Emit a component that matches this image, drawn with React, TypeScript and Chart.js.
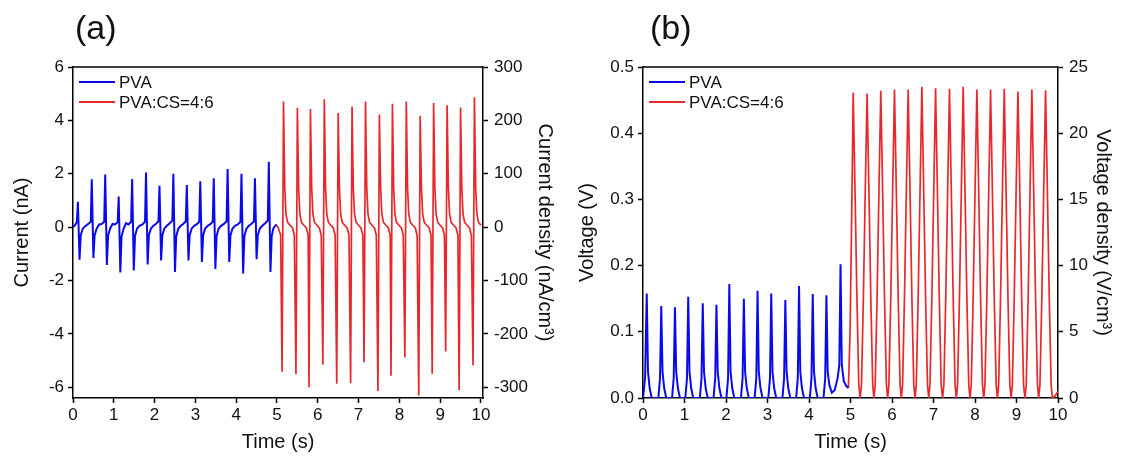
import React, { useEffect, useRef } from 'react';
import { Chart, registerables } from 'chart.js';

Chart.register(...registerables);

const FONT = '"Liberation Sans", Arial, Helvetica, sans-serif';
const BLUE = '#0a0aea';
const RED = '#e8282c';

const SERIES_LABELS = ['PVA', 'PVA:CS=4:6'];
const TIME_TICKS = [0, 1, 2, 3, 4, 5, 6, 7, 8, 9, 10];
const CURRENT_TICKS = [-6, -4, -2, 0, 2, 4, 6];
const CURRENT_DENSITY_TICKS = [-300, -200, -100, 0, 100, 200, 300];
const VOLTAGE_TICKS = [0, 0.1, 0.2, 0.3, 0.4, 0.5];
const VOLTAGE_DENSITY_TICKS = [0, 5, 10, 15, 20, 25];

// (a) current, PVA  [time s, current nA]
const PVA_CURRENT: [number, number][] = [
  [0, 0], [0.05, 0.08], [0.095, 0.2], [0.12, 0.95], [0.16, -1.22], [0.19, -0.3], [0.24, -0.05], [0.3, 0.03],
  [0.37, 0.12], [0.435, 0.2], [0.46, 1.79], [0.5, -1.15], [0.53, -0.3], [0.58, -0.06], [0.64, 0.1],
  [0.7, 0.12], [0.765, 0.2], [0.79, 1.97], [0.83, -1.42], [0.86, -0.32], [0.91, -0.05], [0.97, 0.12],
  [1.03, 0.1], [1.095, 0.18], [1.12, 1.15], [1.16, -1.7], [1.19, -0.35], [1.24, -0.06], [1.3, 0.15],
  [1.36, 0.1], [1.425, 0.2], [1.45, 1.8], [1.49, -1.62], [1.52, -0.33], [1.57, -0.05], [1.63, 0.05],
  [1.7, 0.1], [1.765, 0.2], [1.79, 2.05], [1.83, -1.4], [1.86, -0.3], [1.91, -0.05], [1.97, 0.05],
  [2.03, 0.12], [2.095, 0.22], [2.12, 1.55], [2.16, -1.25], [2.19, -0.3], [2.24, -0.05], [2.3, 0.05],
  [2.37, 0.15], [2.435, 0.25], [2.46, 2.0], [2.5, -1.68], [2.53, -0.35], [2.58, -0.06], [2.64, 0.05],
  [2.7, 0.12], [2.765, 0.22], [2.79, 1.58], [2.83, -1.25], [2.86, -0.3], [2.91, -0.05], [2.97, 0.05],
  [3.03, 0.1], [3.095, 0.2], [3.12, 1.72], [3.16, -1.3], [3.19, -0.3], [3.24, -0.05], [3.3, 0.05],
  [3.36, 0.1], [3.425, 0.2], [3.45, 1.83], [3.49, -1.57], [3.52, -0.33], [3.57, -0.05], [3.63, 0.05],
  [3.7, 0.12], [3.765, 0.22], [3.79, 2.18], [3.83, -1.3], [3.86, -0.3], [3.91, -0.05], [3.97, 0.05],
  [4.04, 0.1], [4.105, 0.2], [4.13, 2.0], [4.17, -1.74], [4.2, -0.35], [4.25, -0.06], [4.31, 0.05],
  [4.37, 0.12], [4.435, 0.22], [4.46, 1.83], [4.5, -1.2], [4.53, -0.3], [4.58, -0.05], [4.64, 0.05],
  [4.71, 0.15], [4.775, 0.25], [4.8, 2.45], [4.84, -1.68], [4.87, -0.35], [4.91, -0.05], [4.98, 0.1],
];

// (a) current, PVA:CS=4:6  [time s, current nA]
const PVACS_CURRENT: [number, number][] = [
  [4.98, 0.1], [5.03, -0.02], [5.09, -0.3],
  [5.125, -5.42], [5.16, 4.71], [5.19, 1.5], [5.22, 0.5], [5.26, 0.18], [5.32, 0.07], [5.38, -0.03], [5.425, -0.3],
  [5.465, -5.5], [5.5, 4.47], [5.53, 1.5], [5.56, 0.5], [5.6, 0.18], [5.66, 0.07], [5.72, -0.03], [5.765, -0.3],
  [5.785, -6.0], [5.82, 4.43], [5.85, 1.5], [5.88, 0.5], [5.92, 0.18], [5.98, 0.07], [6.04, -0.03], [6.085, -0.3],
  [6.125, -5.15], [6.16, 4.79], [6.19, 1.5], [6.22, 0.5], [6.26, 0.18], [6.32, 0.07], [6.38, -0.03], [6.425, -0.3],
  [6.465, -5.87], [6.5, 4.28], [6.53, 1.5], [6.56, 0.5], [6.6, 0.18], [6.66, 0.07], [6.72, -0.03], [6.765, -0.3],
  [6.805, -5.85], [6.84, 4.52], [6.87, 1.5], [6.9, 0.5], [6.94, 0.18], [7.0, 0.07], [7.06, -0.03], [7.105, -0.3],
  [7.135, -5.06], [7.17, 4.71], [7.2, 1.5], [7.23, 0.5], [7.27, 0.18], [7.33, 0.07], [7.39, -0.03], [7.435, -0.3],
  [7.475, -6.14], [7.51, 4.22], [7.54, 1.5], [7.57, 0.5], [7.61, 0.18], [7.67, 0.07], [7.73, -0.03], [7.775, -0.3],
  [7.795, -5.57], [7.83, 4.62], [7.86, 1.5], [7.89, 0.5], [7.93, 0.18], [7.99, 0.07], [8.05, -0.03], [8.095, -0.3],
  [8.135, -4.88], [8.17, 4.71], [8.2, 1.5], [8.23, 0.5], [8.27, 0.18], [8.33, 0.07], [8.39, -0.03], [8.435, -0.3],
  [8.475, -6.31], [8.51, 4.17], [8.54, 1.5], [8.57, 0.5], [8.61, 0.18], [8.67, 0.07], [8.73, -0.03], [8.775, -0.3],
  [8.805, -5.49], [8.84, 4.65], [8.87, 1.5], [8.9, 0.5], [8.94, 0.18], [9.0, 0.07], [9.06, -0.03], [9.105, -0.3],
  [9.135, -4.66], [9.17, 4.57], [9.2, 1.5], [9.23, 0.5], [9.27, 0.18], [9.33, 0.07], [9.39, -0.03], [9.435, -0.3],
  [9.465, -6.1], [9.5, 4.48], [9.53, 1.5], [9.56, 0.5], [9.6, 0.18], [9.66, 0.07], [9.72, -0.03], [9.765, -0.3],
  [9.805, -5.17], [9.84, 4.87], [9.87, 1.5], [9.9, 0.5], [9.94, 0.18], [10.0, 0.07],
];

// (b) voltage, PVA  [time s, voltage V]
const PVA_VOLTAGE: [number, number][] = [
  [0, 0], [0.05, 0.03], [0.09, 0.158], [0.12, 0.04], [0.16, 0.015], [0.21, 0],
  [0.37, 0], [0.41, 0.03], [0.44, 0.139], [0.47, 0.04], [0.51, 0.015], [0.56, 0],
  [0.7, 0], [0.74, 0.03], [0.77, 0.137], [0.8, 0.04], [0.84, 0.015], [0.89, 0],
  [1.02, 0], [1.06, 0.03], [1.09, 0.153], [1.12, 0.04], [1.16, 0.015], [1.21, 0],
  [1.37, 0], [1.41, 0.03], [1.44, 0.143], [1.47, 0.04], [1.51, 0.015], [1.56, 0],
  [1.7, 0], [1.74, 0.03], [1.77, 0.141], [1.8, 0.04], [1.84, 0.015], [1.89, 0],
  [2.01, 0], [2.05, 0.03], [2.08, 0.172], [2.11, 0.04], [2.15, 0.015], [2.2, 0],
  [2.36, 0], [2.4, 0.03], [2.43, 0.15], [2.46, 0.04], [2.5, 0.015], [2.55, 0],
  [2.69, 0], [2.73, 0.03], [2.76, 0.162], [2.79, 0.04], [2.83, 0.015], [2.88, 0],
  [3.02, 0], [3.06, 0.03], [3.09, 0.158], [3.12, 0.04], [3.16, 0.015], [3.21, 0],
  [3.36, 0], [3.4, 0.03], [3.43, 0.148], [3.46, 0.04], [3.5, 0.015], [3.55, 0],
  [3.69, 0], [3.73, 0.03], [3.76, 0.169], [3.79, 0.04], [3.83, 0.015], [3.88, 0],
  [4.02, 0], [4.06, 0.03], [4.09, 0.157], [4.12, 0.04], [4.16, 0.015], [4.21, 0],
  [4.35, 0], [4.39, 0.03], [4.42, 0.155], [4.45, 0.04], [4.49, 0.02], [4.55, 0.008], [4.62, 0.012],
  [4.69, 0.03], [4.73, 0.05], [4.76, 0.202], [4.79, 0.05], [4.84, 0.025], [4.9, 0.018], [4.95, 0.015],
];

// (b) voltage, PVA:CS=4:6  [time s, voltage V]
const PVACS_VOLTAGE: [number, number][] = [
  [4.95, 0.015], [4.99, 0.1], [5.03, 0.28], [5.065, 0.461],
  [5.11, 0.31], [5.155, 0.15], [5.2, 0.02], [5.233, 0], [5.265, 0.02], [5.31, 0.15], [5.355, 0.31], [5.4, 0.46],
  [5.445, 0.31], [5.49, 0.15], [5.535, 0.02], [5.565, 0], [5.595, 0.02], [5.64, 0.15], [5.685, 0.31], [5.73, 0.464],
  [5.775, 0.31], [5.82, 0.15], [5.865, 0.02], [5.895, 0], [5.925, 0.02], [5.97, 0.15], [6.015, 0.31], [6.06, 0.466],
  [6.105, 0.31], [6.15, 0.15], [6.195, 0.02], [6.225, 0], [6.255, 0.02], [6.3, 0.15], [6.345, 0.31], [6.39, 0.466],
  [6.435, 0.31], [6.48, 0.15], [6.525, 0.02], [6.555, 0], [6.585, 0.02], [6.63, 0.15], [6.675, 0.31], [6.72, 0.47],
  [6.765, 0.31], [6.81, 0.15], [6.855, 0.02], [6.885, 0], [6.915, 0.02], [6.96, 0.15], [7.005, 0.31], [7.05, 0.468],
  [7.095, 0.31], [7.14, 0.15], [7.185, 0.02], [7.218, 0], [7.25, 0.02], [7.295, 0.15], [7.34, 0.31], [7.385, 0.467],
  [7.43, 0.31], [7.475, 0.15], [7.52, 0.02], [7.55, 0], [7.58, 0.02], [7.625, 0.15], [7.67, 0.31], [7.715, 0.47],
  [7.76, 0.31], [7.805, 0.15], [7.85, 0.02], [7.88, 0], [7.91, 0.02], [7.955, 0.15], [8.0, 0.31], [8.045, 0.466],
  [8.09, 0.31], [8.135, 0.15], [8.18, 0.02], [8.21, 0], [8.24, 0.02], [8.285, 0.15], [8.33, 0.31], [8.375, 0.466],
  [8.42, 0.31], [8.465, 0.15], [8.51, 0.02], [8.54, 0], [8.57, 0.02], [8.615, 0.15], [8.66, 0.31], [8.705, 0.467],
  [8.75, 0.31], [8.795, 0.15], [8.84, 0.02], [8.87, 0], [8.9, 0.02], [8.945, 0.15], [8.99, 0.31], [9.035, 0.463],
  [9.08, 0.31], [9.125, 0.15], [9.17, 0.02], [9.203, 0], [9.235, 0.02], [9.28, 0.15], [9.325, 0.31], [9.37, 0.466],
  [9.415, 0.31], [9.46, 0.15], [9.505, 0.02], [9.535, 0], [9.565, 0.02], [9.61, 0.15], [9.655, 0.31], [9.7, 0.465],
  [9.745, 0.31], [9.79, 0.15], [9.835, 0.02], [9.865, 0], [9.93, 0.003], [10.0, 0.01],
];

const toXY = (arr: [number, number][]) => arr.map(([x, y]) => ({ x, y }));

const frameAndLegend = {
  id: 'frameAndLegend',
  afterDatasetsDraw(chart: any) {
    const { ctx, chartArea } = chart;
    const { left, right, top } = chartArea;
    ctx.save();
    ctx.strokeStyle = '#000';
    ctx.lineWidth = 1.5;
    ctx.beginPath();
    ctx.moveTo(left, top);
    ctx.lineTo(right, top);
    ctx.stroke();
    ctx.font = `17px ${FONT}`;
    ctx.textBaseline = 'middle';
    ctx.textAlign = 'left';
    chart.data.datasets.forEach((ds: any, i: number) => {
      const y = top + 15 + i * 20;
      ctx.strokeStyle = ds.borderColor;
      ctx.lineWidth = 2;
      ctx.beginPath();
      ctx.moveTo(left + 6, y);
      ctx.lineTo(left + 42, y);
      ctx.stroke();
      ctx.fillStyle = '#111';
      ctx.fillText(ds.label, left + 46, y + 1);
    });
    ctx.restore();
  },
};

interface PanelSpec {
  width: number;
  series: [number, number][][];
  xMax: number;
  yMin: number;
  yMax: number;
  factor: number;
  yTicks: number[];
  y2Ticks: number[];
  yFmt: (v: number) => string;
  yTitle: string;
  y2Title: string;
  leftW: number;
  rightW: number;
  leftTitlePad: number;
  rightTitlePad: number;
}

function axisCommon() {
  return {
    grid: { display: true, drawOnChartArea: false, drawTicks: true, tickLength: 5, tickWidth: 1.5, tickColor: '#000' },
    border: { display: true, color: '#000', width: 1.5 },
  };
}

function buildConfig(p: PanelSpec): any {
  const tickFont = { family: FONT, size: 17 };
  const titleFont = { family: FONT, size: 20 };
  return {
    type: 'line',
    data: {
      datasets: p.series.map((s, i) => ({
        label: SERIES_LABELS[i],
        data: toXY(s),
        borderColor: i === 0 ? BLUE : RED,
        borderWidth: i === 0 ? 2 : 1.7,
        pointRadius: 0,
        tension: 0,
        fill: false,
        yAxisID: 'y',
      })),
    },
    options: {
      responsive: false,
      animation: false,
      devicePixelRatio: 1,
      layout: { padding: { top: 67, left: 0, right: 0, bottom: 0 } },
      plugins: { legend: { display: false }, tooltip: { enabled: false }, title: { display: false } },
      scales: {
        x: {
          type: 'linear',
          position: 'bottom',
          min: 0,
          max: p.xMax,
          ...axisCommon(),
          afterBuildTicks: (s: any) => { s.ticks = TIME_TICKS.map((v) => ({ value: v })); },
          afterFit: (s: any) => { s.height = 61; },
          ticks: { font: tickFont, color: '#111', padding: 2, autoSkip: false, maxRotation: 0, callback: (v: number) => String(v) },
          title: { display: true, text: 'Time (s)', font: titleFont, color: '#111', padding: { top: 0, bottom: 5 } },
        },
        y: {
          type: 'linear',
          position: 'left',
          min: p.yMin,
          max: p.yMax,
          ...axisCommon(),
          afterBuildTicks: (s: any) => { s.ticks = p.yTicks.map((v) => ({ value: v })); },
          afterFit: (s: any) => { s.width = p.leftW; },
          ticks: { font: tickFont, color: '#111', padding: 4, autoSkip: false, callback: (v: number) => p.yFmt(v) },
          title: { display: true, text: p.yTitle, font: titleFont, color: '#111', padding: { top: p.leftTitlePad, bottom: 0 } },
        },
        y2: {
          type: 'linear',
          position: 'right',
          min: p.yMin * p.factor,
          max: p.yMax * p.factor,
          ...axisCommon(),
          afterBuildTicks: (s: any) => { s.ticks = p.y2Ticks.map((v) => ({ value: v })); },
          afterFit: (s: any) => { s.width = p.rightW; },
          ticks: { font: tickFont, color: '#111', padding: 6, autoSkip: false, callback: (v: number) => String(v) },
          title: { display: true, text: p.y2Title, font: titleFont, color: '#111', padding: { top: p.rightTitlePad, bottom: 0 } },
        },
      },
    },
    plugins: [frameAndLegend],
  };
}

const PANEL_A: PanelSpec = {
  width: 561,
  series: [PVA_CURRENT, PVACS_CURRENT],
  xMax: 10.05,
  yMin: -6.4,
  yMax: 6,
  factor: 50,
  yTicks: CURRENT_TICKS,
  y2Ticks: CURRENT_DENSITY_TICKS,
  yFmt: (v) => String(v),
  yTitle: 'Current (nA)',
  y2Title: 'Current density (nA/cm³)',
  leftW: 73,
  rightW: 78,
  leftTitlePad: 10,
  rightTitlePad: 4,
};

const PANEL_B: PanelSpec = {
  width: 562,
  series: [PVA_VOLTAGE, PVACS_VOLTAGE],
  xMax: 10,
  yMin: 0,
  yMax: 0.5,
  factor: 50,
  yTicks: VOLTAGE_TICKS,
  y2Ticks: VOLTAGE_DENSITY_TICKS,
  yFmt: (v) => v.toFixed(1),
  yTitle: 'Voltage (V)',
  y2Title: 'Voltage density (V/cm³)',
  leftW: 82,
  rightW: 65,
  leftTitlePad: 14,
  rightTitlePad: 8,
};

function Panel({ spec, left, tag }: { spec: PanelSpec; left: number; tag: string }) {
  const ref = useRef<HTMLCanvasElement | null>(null);
  useEffect(() => {
    if (!ref.current) return;
    const chart = new Chart(ref.current, buildConfig(spec));
    return () => chart.destroy();
  }, [spec]);
  return (
    <div style={{ position: 'absolute', left, top: 0, width: spec.width, height: 459 }}>
      <canvas ref={ref} width={spec.width} height={459} style={{ display: 'block', width: spec.width, height: 459 }} />
      <div
        style={{
          position: 'absolute',
          left: tag === '(a)' ? 75 : 89,
          top: 10,
          fontFamily: FONT,
          fontSize: 34,
          lineHeight: '34px',
          color: '#111',
          whiteSpace: 'nowrap',
        }}
      >
        {tag}
      </div>
    </div>
  );
}

export default function App() {
  return (
    <div style={{ position: 'fixed', left: 0, top: 0, width: 1123, height: 459, background: '#fff', overflow: 'hidden' }}>
      <Panel spec={PANEL_A} left={0} tag="(a)" />
      <Panel spec={PANEL_B} left={561} tag="(b)" />
    </div>
  );
}
